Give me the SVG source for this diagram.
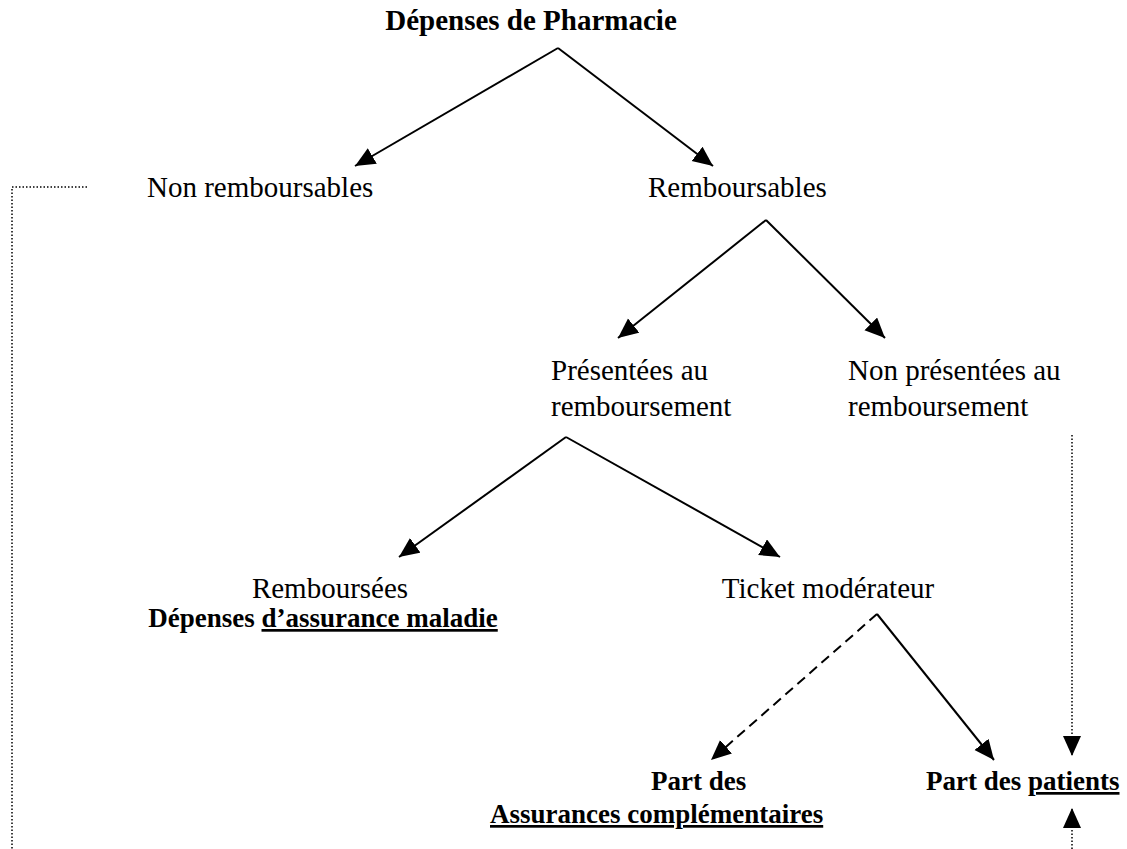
<svg xmlns="http://www.w3.org/2000/svg" width="1127" height="849" viewBox="0 0 1127 849">
<defs>
<style>
.t{font-family:"Liberation Serif","Times New Roman",serif;font-size:29px;fill:#000}
.b{font-weight:bold;font-size:27px}
.title{font-weight:bold;font-size:29px}
.u{text-decoration:underline}
.ln{stroke:#000;stroke-width:2;fill:none}
.da{stroke-dasharray:10,6}
.dot{stroke:#000;stroke-width:1.5;fill:none;stroke-dasharray:1.5,2}
</style>
<marker id="ah" markerUnits="userSpaceOnUse" markerWidth="22" markerHeight="20" refX="20" refY="9" orient="auto" viewBox="0 0 22 20">
<path d="M0,0 L20,9 L0,18 z" fill="#000"/>
</marker>
</defs>
<rect width="1127" height="849" fill="#fff"/>
<g id="connectors">
<line class="ln" x1="558" y1="48" x2="355" y2="166" marker-end="url(#ah)"/>
<line class="ln" x1="558" y1="48" x2="713" y2="166" marker-end="url(#ah)"/>
<line class="ln" x1="766" y1="220" x2="618" y2="338" marker-end="url(#ah)"/>
<line class="ln" x1="766" y1="220" x2="885" y2="338" marker-end="url(#ah)"/>
<line class="ln" x1="566" y1="437" x2="399" y2="557" marker-end="url(#ah)"/>
<line class="ln" x1="566" y1="437" x2="780" y2="557" marker-end="url(#ah)"/>
<line class="ln da" x1="877" y1="614" x2="711" y2="760" marker-end="url(#ah)"/>
<line class="ln" x1="877" y1="614" x2="994" y2="760" marker-end="url(#ah)"/>
<line class="dot" x1="1072" y1="435" x2="1072" y2="756" marker-end="url(#ah)"/>
<line class="dot" x1="1072" y1="849" x2="1072" y2="808" marker-end="url(#ah)"/>
<polyline class="dot" points="87,187 12,187 12,849"/>
</g>
<g id="n-root"><text class="t title" x="531" y="30" text-anchor="middle">Dépenses de Pharmacie</text></g>
<g id="n-nonremb"><text class="t" x="147" y="197">Non remboursables</text></g>
<g id="n-remb"><text class="t" x="648" y="197">Remboursables</text></g>
<g id="n-presentees"><text class="t" x="551" y="380">Présentées au</text><text class="t" x="551" y="416">remboursement</text></g>
<g id="n-nonpresentees"><text class="t" x="848" y="380">Non présentées au</text><text class="t" x="848" y="416">remboursement</text></g>
<g id="n-remboursees"><text class="t" x="330" y="598" text-anchor="middle">Remboursées</text><text class="t b" x="323" y="627" text-anchor="middle">Dépenses <tspan class="u">d’assurance maladie</tspan></text></g>
<g id="n-ticket"><text class="t" x="828" y="598" text-anchor="middle">Ticket modérateur</text></g>
<g id="n-complementaires"><text class="t b" x="651" y="790">Part des</text><text class="t b u" x="490" y="823">Assurances complémentaires</text></g>
<g id="n-patients"><text class="t b" x="926" y="790">Part des <tspan class="u">patients</tspan></text></g>
</svg>
